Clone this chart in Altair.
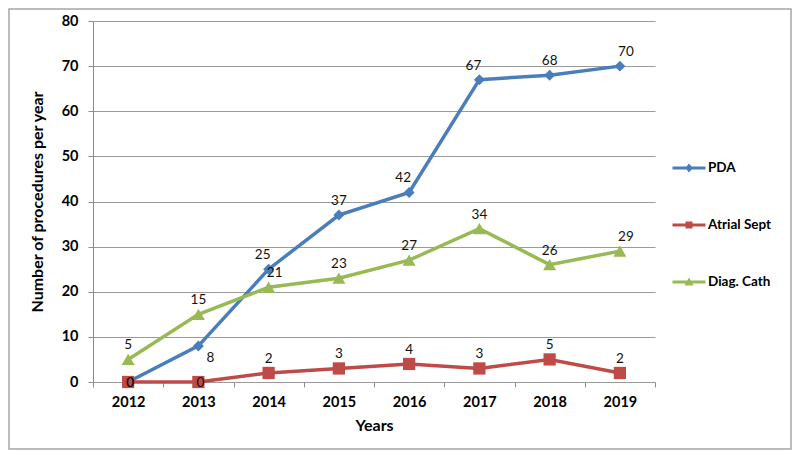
import altair as alt
import pandas as pd

# ---- data ----
years = ["2012", "2013", "2014", "2015", "2016", "2017", "2018", "2019"]
series_names = ["PDA", "Atrial Sept", "Diag. Cath"]
pda = [0, 8, 25, 37, 42, 67, 68, 70]
atrial = [0, 0, 2, 3, 4, 3, 5, 2]
diag = [5, 15, 21, 23, 27, 34, 26, 29]
colors = ["#4A7EBB", "#BE4B48", "#98B954"]
y_ticks = [0, 10, 20, 30, 40, 50, 60, 70, 80]

rows = []
for name, vals in zip(series_names, [pda, atrial, diag]):
    for yr, v in zip(years, vals):
        rows.append({"year": yr, "series": name, "value": v})
df = pd.DataFrame(rows)

FONT = "Lato"
W, H = 562, 361

x_enc = alt.X(
    "year:N",
    sort=years,
    scale=alt.Scale(type="band", paddingInner=0, paddingOuter=0),
    axis=alt.Axis(
        title="Years",
        labelAngle=0,
        tickBand="extent",
        labelPadding=8,
        titleY=43,
        titleBaseline="middle",
        domain=False,
    ),
)
y_enc = alt.Y(
    "value:Q",
    scale=alt.Scale(domain=[0, 80], nice=False),
    axis=alt.Axis(
        title="Number of procedures per year",
        values=y_ticks,
        labelPadding=10,
        titleX=-56,
        titleY=H / 2,
        titleAlign="center",
        titleBaseline="middle",
        titleAngle=270,
    ),
)


def by_series(values, default):
    return {
        "condition": [
            {"test": f"datum.series === '{series_names[0]}'", "value": values[0]},
            {"test": f"datum.series === '{series_names[1]}'", "value": values[1]},
        ],
        "value": default,
    }


base = alt.Chart(df)

lines = base.mark_line(strokeWidth=3.5, opacity=1).encode(
    x=x_enc,
    y=y_enc,
    color=by_series(colors[:2], colors[2]),
    detail="series:N",
)

points = base.mark_point(filled=True, opacity=1, strokeWidth=0).encode(
    x=x_enc,
    y=y_enc,
    color=by_series(colors[:2], colors[2]),
    shape=by_series(["diamond", "square"], "triangle-up"),
    size=by_series([120, 150], 170),
)

# legend: line segment with the series marker (custom symbol paths)
bar = "M-1.65,-0.15L1.65,-0.15L1.65,0.15L-1.65,0.15Z"
legend_paths = [
    bar + "M0,-0.45L0.37,0L0,0.45L-0.37,0Z",
    bar + "M-0.35,-0.35L0.35,-0.35L0.35,0.35L-0.35,0.35Z",
    bar + "M0,-0.45L0.45,0.35L-0.45,0.35Z",
]
leg = alt.Legend(
    title=None,
    orient="none",
    legendX=586,
    legendY=137,
    padding=0,
    symbolSize=400,
    symbolStrokeWidth=0,
    symbolOpacity=1,
    rowPadding=40,
    labelOffset=9,
    labelFont=FONT,
    labelFontSize=13.5,
    labelFontWeight="bold",
    labelColor="#000000",
    labelLimit=200,
)
legend_layer = base.transform_filter("false").mark_point(
    filled=True, opacity=1, size=400
).encode(
    x=x_enc,
    y=y_enc,
    color=alt.Color("series:N", scale=alt.Scale(domain=series_names, range=colors), legend=leg),
    shape=alt.Shape(
        "series:N",
        scale=alt.Scale(domain=series_names, range=legend_paths),
        legend=leg,
    ),
)

txt = dict(font=FONT, fontSize=13.5, color="#111111", baseline="middle")


def label_layer(expr, dx, dy):
    return base.transform_filter(expr).mark_text(dx=dx, dy=dy, **txt).encode(
        x=x_enc, y=y_enc, text="value:Q"
    )


zero = "datum.value === 0"
below_right = "datum.series === 'PDA' && datum.year === '2013'"
left = "datum.series === 'PDA' && indexof(['2014','2016','2017'], datum.year) >= 0"
right = ("(datum.series === 'PDA' && datum.year === '2019') || "
         "(datum.series === 'Diag. Cath' && indexof(['2014','2019'], datum.year) >= 0)")
labels = alt.layer(
    label_layer(zero, 2, 1),
    label_layer(below_right, 12, 12),
    label_layer(left, -6, -14),
    label_layer(right, 6, -14),
    label_layer(f"!({zero}) && !({below_right}) && !({left}) && !({right})", 0, -14),
)

border = alt.Chart(alt.Data(values=[{}])).mark_rect(
    filled=False, stroke="#A6A6A6", strokeWidth=1.5
).encode(
    x=alt.value(-84),
    x2=alt.value(W + 136),
    y=alt.value(-12),
    y2=alt.value(H + 67),
)

chart = (
    alt.layer(border, lines, points, labels, legend_layer)
    .properties(
        width=W,
        height=H,
        autosize=alt.AutoSizeParams(type="none"),
        padding={"left": 85, "top": 13, "right": 137, "bottom": 68},
        background="white",
    )
    .configure_view(stroke=None)
    .configure_axis(
        labelFont=FONT,
        labelFontSize=14.5,
        labelFontWeight="bold",
        labelColor="#000000",
        titleFont=FONT,
        titleFontSize=16,
        titleFontWeight="bold",
        titleColor="#000000",
        domainColor="#8C8C8C",
        tickColor="#8C8C8C",
        gridColor="#9A9A9A",
        tickSize=5,
    )
    .configure_axisX(grid=False)
    .configure_axisY(grid=True)
)

chart.save("out.html", embed_options={"renderer": "svg", "actions": False})
